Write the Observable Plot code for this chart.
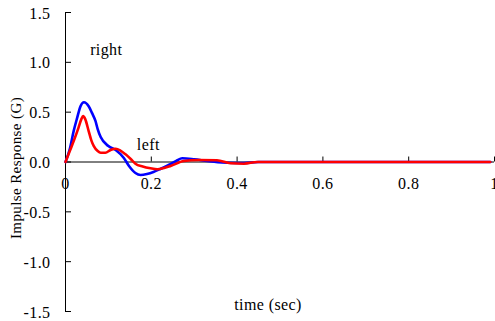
<!DOCTYPE html>
<html>
<head>
<meta charset="utf-8">
<script src="https://cdn.jsdelivr.net/npm/d3@7"></script>
<script src="https://cdn.jsdelivr.net/npm/@observablehq/plot@0.6"></script>
<style>
  html, body { margin: 0; padding: 0; background: #fff; }
  svg text { font-family: "Liberation Serif", serif; }
</style>
</head>
<body>
<div id="chart"></div>
<script>
const xTicks = [0, 0.2, 0.4, 0.6, 0.8, 1];
const xTickLabels = ["0", "0.2", "0.4", "0.6", "0.8", "1"];
const yTicks = [-1.5, -1.0, -0.5, 0, 0.5, 1.0, 1.5];
const yTickLabels = ["-1.5", "-1.0", "-0.5", "0.0", "0.5", "1.0", "1.5"];

const rightT = [0, 0.01, 0.019, 0.027, 0.035, 0.043, 0.054, 0.062, 0.07, 0.075, 0.082, 0.1, 0.117, 0.136, 0.148, 0.163, 0.175, 0.19, 0.205, 0.221, 0.24, 0.258, 0.272, 0.3, 0.33, 0.355, 0.377, 0.416, 0.45, 0.99];
const rightV = [0, 0.13, 0.31, 0.44, 0.56, 0.60, 0.56, 0.49, 0.41, 0.33, 0.25, 0.16, 0.12, 0.04, -0.04, -0.11, -0.13, -0.12, -0.10, -0.07, -0.03, 0.01, 0.037, 0.027, 0.01, -0.002, -0.007, -0.01, 0, 0];

const leftT = [0, 0.01, 0.02, 0.03, 0.037, 0.041, 0.046, 0.054, 0.06, 0.066, 0.075, 0.082, 0.093, 0.105, 0.117, 0.128, 0.14, 0.152, 0.163, 0.18, 0.198, 0.214, 0.23, 0.245, 0.276, 0.31, 0.353, 0.385, 0.416, 0.447, 0.99];
const leftV = [0, 0.11, 0.22, 0.34, 0.43, 0.46, 0.43, 0.31, 0.22, 0.16, 0.11, 0.093, 0.093, 0.12, 0.133, 0.115, 0.077, 0.03, -0.017, -0.045, -0.063, -0.073, -0.06, -0.04, 0.01, 0.02, 0.017, -0.013, -0.017, 0, 0];

const labelPos = [{name: "right", t: 0.095, v: 1.12}, {name: "left", t: 0.193, v: 0.17}];

const rows = [];
rightT.forEach((t, i) => rows.push({series: "right", t, v: rightV[i]}));
leftT.forEach((t, i) => rows.push({series: "left", t, v: leftV[i]}));

const chart = Plot.plot({
  width: 495,
  height: 321,
  marginLeft: 65,
  marginRight: 1,
  marginTop: 12,
  marginBottom: 10,
  style: {fontFamily: "Liberation Serif", fontSize: "16px", background: "#fff", color: "#000", letterSpacing: "0.4px"},
  x: {domain: [0, 1], axis: null},
  y: {domain: [-1.5, 1.5], axis: null},
  marks: [
    Plot.ruleX([0], {y1: -1.5, y2: 1.5, stroke: "#000", strokeWidth: 1}),
    Plot.ruleY([0], {x1: 0, x2: 1, stroke: "#000", strokeWidth: 1}),
    Plot.ruleY(yTicks, {y: d => d, x1: 0, x2: 0.014, stroke: "#000"}),
    Plot.ruleX(xTicks.slice(1), {x: d => d, y1: 0, y2: 0.05, stroke: "#000"}),
    Plot.text(yTicks, {x: 0, y: d => d, text: (d, i) => yTickLabels[i], textAnchor: "end", dx: -15, dy: 1, fontSize: 16}),
    Plot.text(xTicks, {x: d => d, y: 0, text: (d, i) => xTickLabels[i], dy: 22, fontSize: 16}),
    Plot.line(rows.filter(d => d.series === "right"), {x: "t", y: "v", stroke: "#0000ff", strokeWidth: 2.6, curve: "monotone-x"}),
    Plot.line(rows.filter(d => d.series === "left"), {x: "t", y: "v", stroke: "#ff0000", strokeWidth: 2.6, curve: "monotone-x"}),
    Plot.text(labelPos, {x: "t", y: "v", text: "name", fontSize: 16}),
    Plot.text(["Impulse Response (G)"], {frameAnchor: "left", textAnchor: "middle", rotate: -90, dx: -49, dy: 6, fontSize: 15}),
    Plot.text(["time (sec)"], {frameAnchor: "bottom", dx: -12, dy: -2, fontSize: 16})
  ]
});
document.getElementById("chart").appendChild(chart);
</script>
</body>
</html>
